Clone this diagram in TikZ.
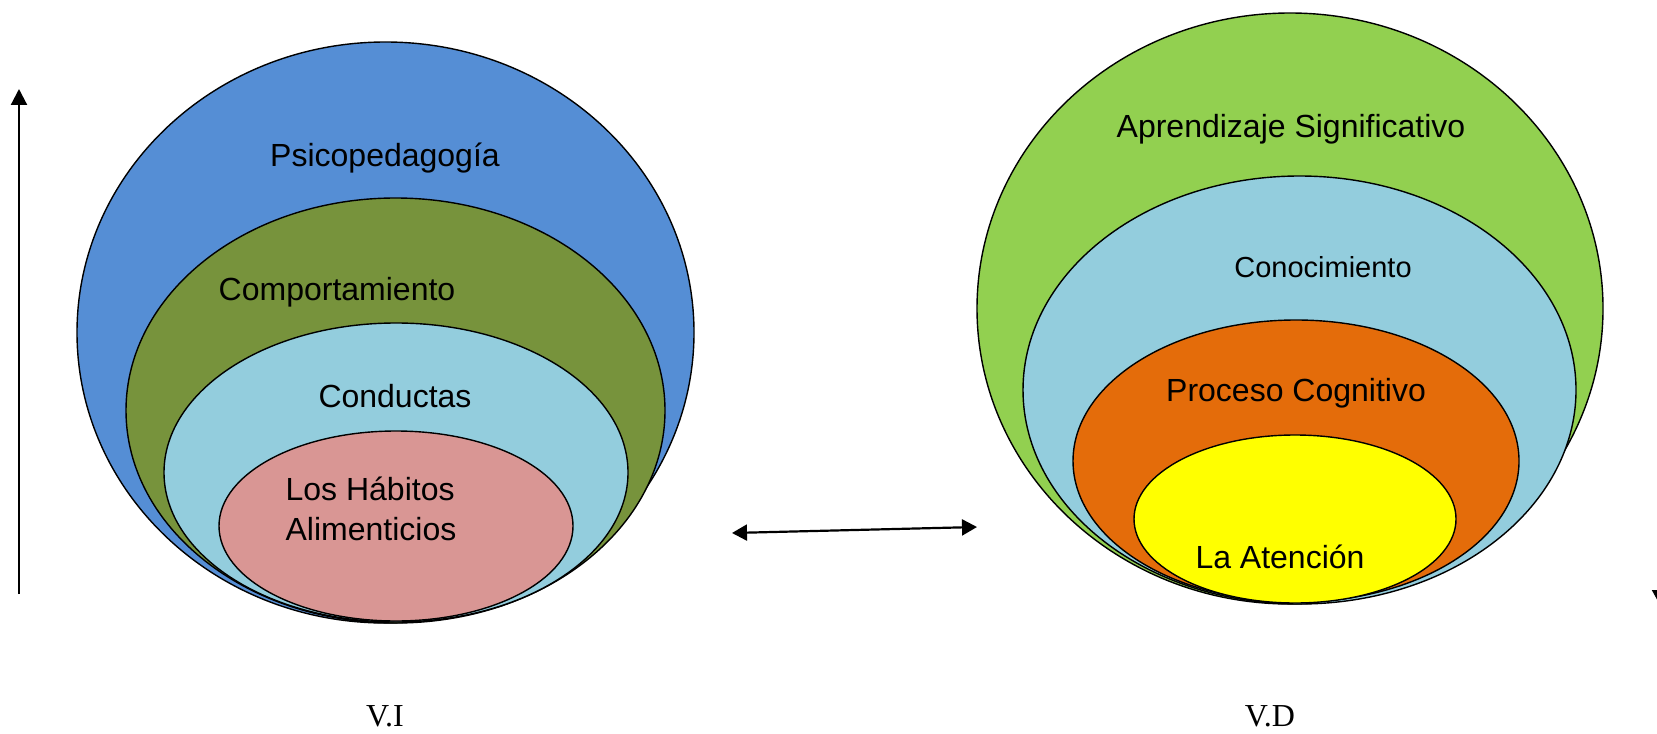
\documentclass[tikz,border=0pt]{standalone}
\usepackage{fontspec}
\setmainfont{Liberation Sans}
\newfontfamily\romanvar{Liberation Serif}
\usepackage{tikz}
\usetikzlibrary{shapes.geometric,positioning,arrows.meta}
\definecolor{psblue}{HTML}{558ED5}
\definecolor{olive}{HTML}{77933C}
\definecolor{skyblue}{HTML}{93CDDD}
\definecolor{rose}{HTML}{D99694}
\definecolor{lime}{HTML}{92D050}
\definecolor{carrot}{HTML}{E46C0A}
\definecolor{lemon}{HTML}{FFFF00}

\begin{document}
\begin{tikzpicture}
[
  x=0.5pt, y=-0.5pt,
  ring/.style={ellipse, draw, fill=#1, inner sep=0pt, line width=0.7pt},
  word/.style={font=\fontsize{16}{20}\selectfont, inner sep=1pt},
  varname/.style={font=\romanvar\fontsize{16}{20}\selectfont},
  link/.style={line width=1.1pt, #1}
]
\useasboundingbox (0,0) rectangle (1657,733);

% V.I side
\node (psico) [ring=psblue, minimum width=308.5pt, minimum height=290.5pt] at (385.5,332.5) {};
\node (comp) [ring=olive, minimum width=269.5pt, minimum height=212.5pt] at (395.5,410.5) {};
\node (cond) [ring=skyblue, minimum width=232pt, minimum height=149.5pt] at (396,472.5) {};
\node (habit) [ring=rose, minimum width=177pt, minimum height=95pt] at (396,526) {};

\node (psico lbl) [word] at (385,158) {Psicopedagogía};
\node (comp lbl) [word] at (337,292) {Comportamiento};
\node (cond lbl) [word] at (395,396) {Conductas};
\node (habit lbl) [word, align=left] at (371,509) {Los Hábitos\\Alimenticios};

% V.D side
\node (aprend) [ring=lime, minimum width=313pt, minimum height=295.5pt] at (1290,308.5) {};
\node (conoc) [ring=skyblue, minimum width=276.5pt, minimum height=214pt] at (1299.5,390) {};
\node (proc) [ring=carrot, minimum width=223pt, minimum height=141pt] at (1296,461) {};
\node (atenc) [ring=lemon, minimum width=161pt, minimum height=84pt] at (1295,519) {};

\node (aprend lbl) [word] at (1291,129) {Aprendizaje Significativo};
\node (conoc lbl) [word, font=\fontsize{14.5}{18}\selectfont] at (1323,267) {Conocimiento};
\node (proc lbl) [word] at (1296,393) {Proceso Cognitivo};
\node (atenc lbl) [word] at (1280,557) {La Atención};

\node (vi) [varname] at (385,716) {V.I};
\node (vd) [varname] at (1270,716) {V.D};

% arrows
\coordinate (vi top) at (19,89);
\coordinate (vi bot) at (19,594);
\coordinate (mid l) at (732,533);
\coordinate (mid r) at (977,527);
\coordinate (vd top) at (1660,470);
\coordinate (vd bot) at (1660,605);

\draw [link={-{Triangle[length=8pt,width=8pt]}}] (vi bot) -- (vi top);
\draw [link={{Triangle[length=7.5pt,width=8pt]}-{Triangle[length=7.5pt,width=8pt]}}] (mid l) -- (mid r);
\draw [link={-{Triangle[length=7.5pt,width=8pt]}}] (vd top) -- (vd bot);
\end{tikzpicture}
\end{document}
